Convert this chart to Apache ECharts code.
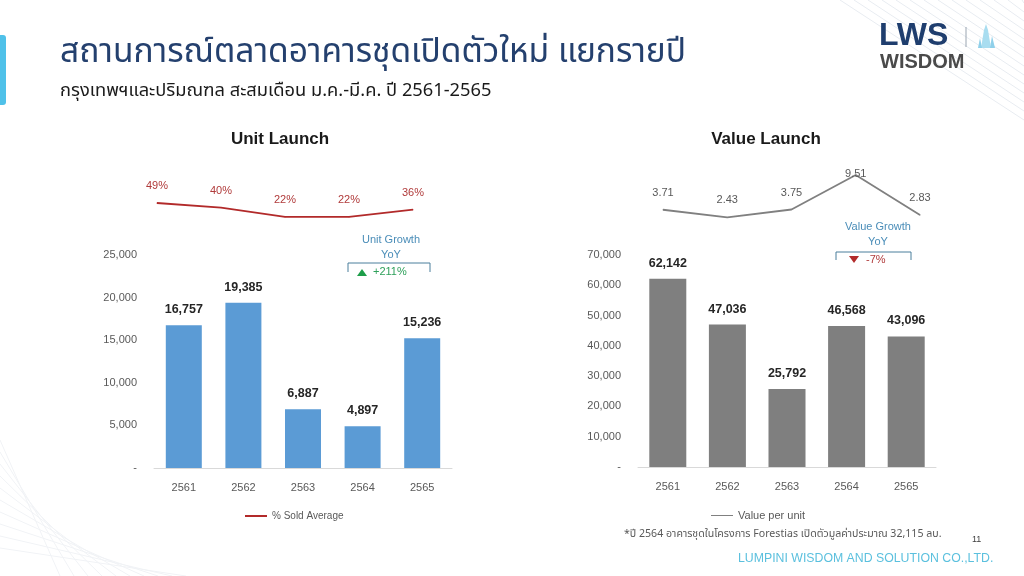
<!DOCTYPE html>
<html><head><meta charset="utf-8">
<script src="https://cdn.jsdelivr.net/npm/echarts@6/dist/echarts.min.js"></script>
<style>html,body{margin:0;padding:0;background:#fff}#c{width:1024px;height:576px}</style>
</head><body><div id="c"></div>
<script>
const years = ['2561','2562','2563','2564','2565'];
const unitLaunch = [16757, 19385, 6887, 4897, 15236];
const soldAvg = [49, 40, 22, 22, 36];
const valueLaunch = [62142, 47036, 25792, 46568, 43096];
const valuePerUnit = [3.71, 2.43, 3.75, 9.51, 2.83];
const unitTicks = {max: 25000, interval: 5000};
const valueTicks = {max: 70000, interval: 10000};

const FONT = '"Liberation Sans", Arial, "Noto Sans", sans-serif';
const THAI = '"Noto Sans Thai", "Noto Sans", "Liberation Sans", sans-serif';
const chart = echarts.init(document.getElementById('c'));

function numFmt(v){ return v === 0 ? '-' : v.toLocaleString('en-US'); }

const stripes = [];
for (let i = 0; i < 14; i++) {
  stripes.push({type:'line', silent:true, shape:{x1:840+i*14, y1:0, x2:1024, y2:120-i*9}, style:{stroke:'#E8ECF1', lineWidth:1}});
}
for (let i = 0; i < 10; i++) {
  stripes.push({type:'line', silent:true, shape:{x1:0, y1:440+i*12, x2:60+i*14, y2:576}, style:{stroke:'#F1F3F6', lineWidth:1}});
}

const option = {
  animation: false,
  textStyle: {fontFamily: FONT},
  grid: [
    {left:154, width:298, top:255, height:213},
    {left:157, width:256, top:177, height:51},
    {left:638, width:298, top:255, height:212},
    {left:663, width:257, top:172, height:60}
  ],
  xAxis: [
    {gridIndex:0, type:'category', data:years, axisTick:{show:false}, axisLine:{lineStyle:{color:'#D9D9D9'}}, axisLabel:{color:'#595959', fontSize:11, margin:14}},
    {gridIndex:1, type:'category', data:years, boundaryGap:false, show:false},
    {gridIndex:2, type:'category', data:years, axisTick:{show:false}, axisLine:{lineStyle:{color:'#D9D9D9'}}, axisLabel:{color:'#595959', fontSize:11, margin:14}},
    {gridIndex:3, type:'category', data:years, boundaryGap:false, show:false}
  ],
  yAxis: [
    {gridIndex:0, type:'value', min:0, max:unitTicks.max, interval:unitTicks.interval, splitLine:{show:false}, axisLine:{show:false}, axisTick:{show:false}, axisLabel:{color:'#595959', fontSize:11, margin:17, formatter:numFmt}},
    {gridIndex:1, type:'value', min:0, max:100, show:false},
    {gridIndex:2, type:'value', min:0, max:valueTicks.max, interval:valueTicks.interval, splitLine:{show:false}, axisLine:{show:false}, axisTick:{show:false}, axisLabel:{color:'#595959', fontSize:11, margin:17, formatter:numFmt}},
    {gridIndex:3, type:'value', min:0, max:10, show:false}
  ],
  legend: [
    {data:['% Sold Average'], left:240, top:506, icon:'rect', itemWidth:22, itemHeight:2, itemGap:6, textStyle:{color:'#595959', fontSize:10, fontFamily:FONT}},
    {data:['Value per unit'], left:706, top:505, icon:'rect', itemWidth:22, itemHeight:1, itemGap:6, textStyle:{color:'#595959', fontSize:11, fontFamily:FONT}}
  ],
  series: [
    {name:'Unit Launch', type:'bar', xAxisIndex:0, yAxisIndex:0, data:unitLaunch, barWidth:36, itemStyle:{color:'#5B9BD5'},
      label:{show:true, position:'top', distance:9, color:'#262626', fontWeight:'bold', fontSize:12.5, formatter:p=>p.value.toLocaleString('en-US')}},
    {name:'% Sold Average', type:'line', xAxisIndex:1, yAxisIndex:1, data:soldAvg, symbol:'circle', symbolSize:1, showSymbol:true, lineStyle:{color:'#B22A2A', width:1.8}, itemStyle:{color:'#B22A2A'},
      label:{show:true, position:'top', distance:11, color:'#B03A3A', fontSize:11, formatter:p=>p.value+'%'}},
    {name:'Value Launch', type:'bar', xAxisIndex:2, yAxisIndex:2, data:valueLaunch, barWidth:37, itemStyle:{color:'#7F7F7F'},
      label:{show:true, position:'top', distance:9, color:'#262626', fontWeight:'bold', fontSize:12.5, formatter:p=>p.value.toLocaleString('en-US')}},
    {name:'Value per unit', type:'line', xAxisIndex:3, yAxisIndex:3,
      data:valuePerUnit.map((v,i)=> i===3 ? {value:v, label:{offset:[0,16]}} : v),
      symbol:'circle', symbolSize:1, showSymbol:true, lineStyle:{color:'#808080', width:1.8}, itemStyle:{color:'#808080'},
      label:{show:true, position:'top', distance:11, color:'#595959', fontSize:11, formatter:p=>p.value.toFixed(2)}}
  ],
  graphic: stripes.concat([
    {type:'rect', shape:{x:-4, y:35, width:10, height:70, r:3}, style:{fill:'#4FC1E9'}},
    {type:'text', left:60, top:38, style:{text:'สถานการณ์ตลาดอาคารชุดเปิดตัวใหม่ แยกรายปี', fill:'#24406E', font:'33.5px '+THAI}},
    {type:'text', left:60, top:83, style:{text:'กรุงเทพฯและปริมณฑล สะสมเดือน ม.ค.-มี.ค. ปี 2561-2565', fill:'#1A1A1A', font:'18.3px '+THAI}},
    {type:'text', left:879, top:20, style:{text:'LWS', fill:'#1F3E6E', font:'bold 32px '+FONT}},
    {type:'line', shape:{x1:966, y1:27, x2:966, y2:47}, style:{stroke:'#9AA5B1', lineWidth:1}},
    {type:'polygon', shape:{points:[[981,48],[984,30],[986,24],[988,30],[991,48]]}, style:{fill:'#A9DDF0'}},
    {type:'polygon', shape:{points:[[978,48],[980,38],[982,48]]}, style:{fill:'#8FD0EA'}},
    {type:'polygon', shape:{points:[[990,48],[992,36],[995,48]]}, style:{fill:'#8FD0EA'}},
    {type:'text', left:880, top:52, style:{text:'WISDOM', fill:'#4A4A4A', font:'bold 20px '+FONT}},
    {type:'text', x:280, y:139, style:{text:'Unit Launch', fill:'#1A1A1A', font:'bold 17px '+FONT, textAlign:'center', textVerticalAlign:'middle'}},
    {type:'text', x:766, y:139, style:{text:'Value Launch', fill:'#1A1A1A', font:'bold 17px '+FONT, textAlign:'center', textVerticalAlign:'middle'}},
    {type:'text', x:391, y:240, style:{text:'Unit Growth', fill:'#4A8DB8', font:'11px '+FONT, textAlign:'center', textVerticalAlign:'middle'}},
    {type:'text', x:391, y:255, style:{text:'YoY', fill:'#4A8DB8', font:'11px '+FONT, textAlign:'center', textVerticalAlign:'middle'}},
    {type:'polyline', shape:{points:[[348,272],[348,263],[430,263],[430,272]]}, style:{stroke:'#4A7F9C', lineWidth:1, fill:null}},
    {type:'polygon', shape:{points:[[357,276],[367,276],[362,269]]}, style:{fill:'#1E9E4A'}},
    {type:'text', x:373, y:272, style:{text:'+211%', fill:'#2EA05A', font:'11px '+FONT, textAlign:'left', textVerticalAlign:'middle'}},
    {type:'text', x:878, y:227, style:{text:'Value Growth', fill:'#4A8DB8', font:'11px '+FONT, textAlign:'center', textVerticalAlign:'middle'}},
    {type:'text', x:878, y:242, style:{text:'YoY', fill:'#4A8DB8', font:'11px '+FONT, textAlign:'center', textVerticalAlign:'middle'}},
    {type:'polyline', shape:{points:[[836,260],[836,252],[911,252],[911,260]]}, style:{stroke:'#4A7F9C', lineWidth:1, fill:null}},
    {type:'polygon', shape:{points:[[849,256],[859,256],[854,263]]}, style:{fill:'#B22A2A'}},
    {type:'text', x:866, y:260, style:{text:'-7%', fill:'#B03A3A', font:'11px '+FONT, textAlign:'left', textVerticalAlign:'middle'}},
    {type:'text', left:624, top:529, style:{text:'*ปี 2564 อาคารชุดในโครงการ Forestias เปิดตัวมูลค่าประมาณ 32,115 ลบ.', fill:'#595959', font:'10.6px '+THAI}},
    {type:'text', left:972, top:535, style:{text:'11', fill:'#404040', font:'9px '+FONT}},
    {type:'text', left:738, top:553, style:{text:'LUMPINI WISDOM AND SOLUTION CO.,LTD.', fill:'#5BC0DE', font:'12.3px '+FONT}}
  ])
};
chart.setOption(option);
</script></body></html>
